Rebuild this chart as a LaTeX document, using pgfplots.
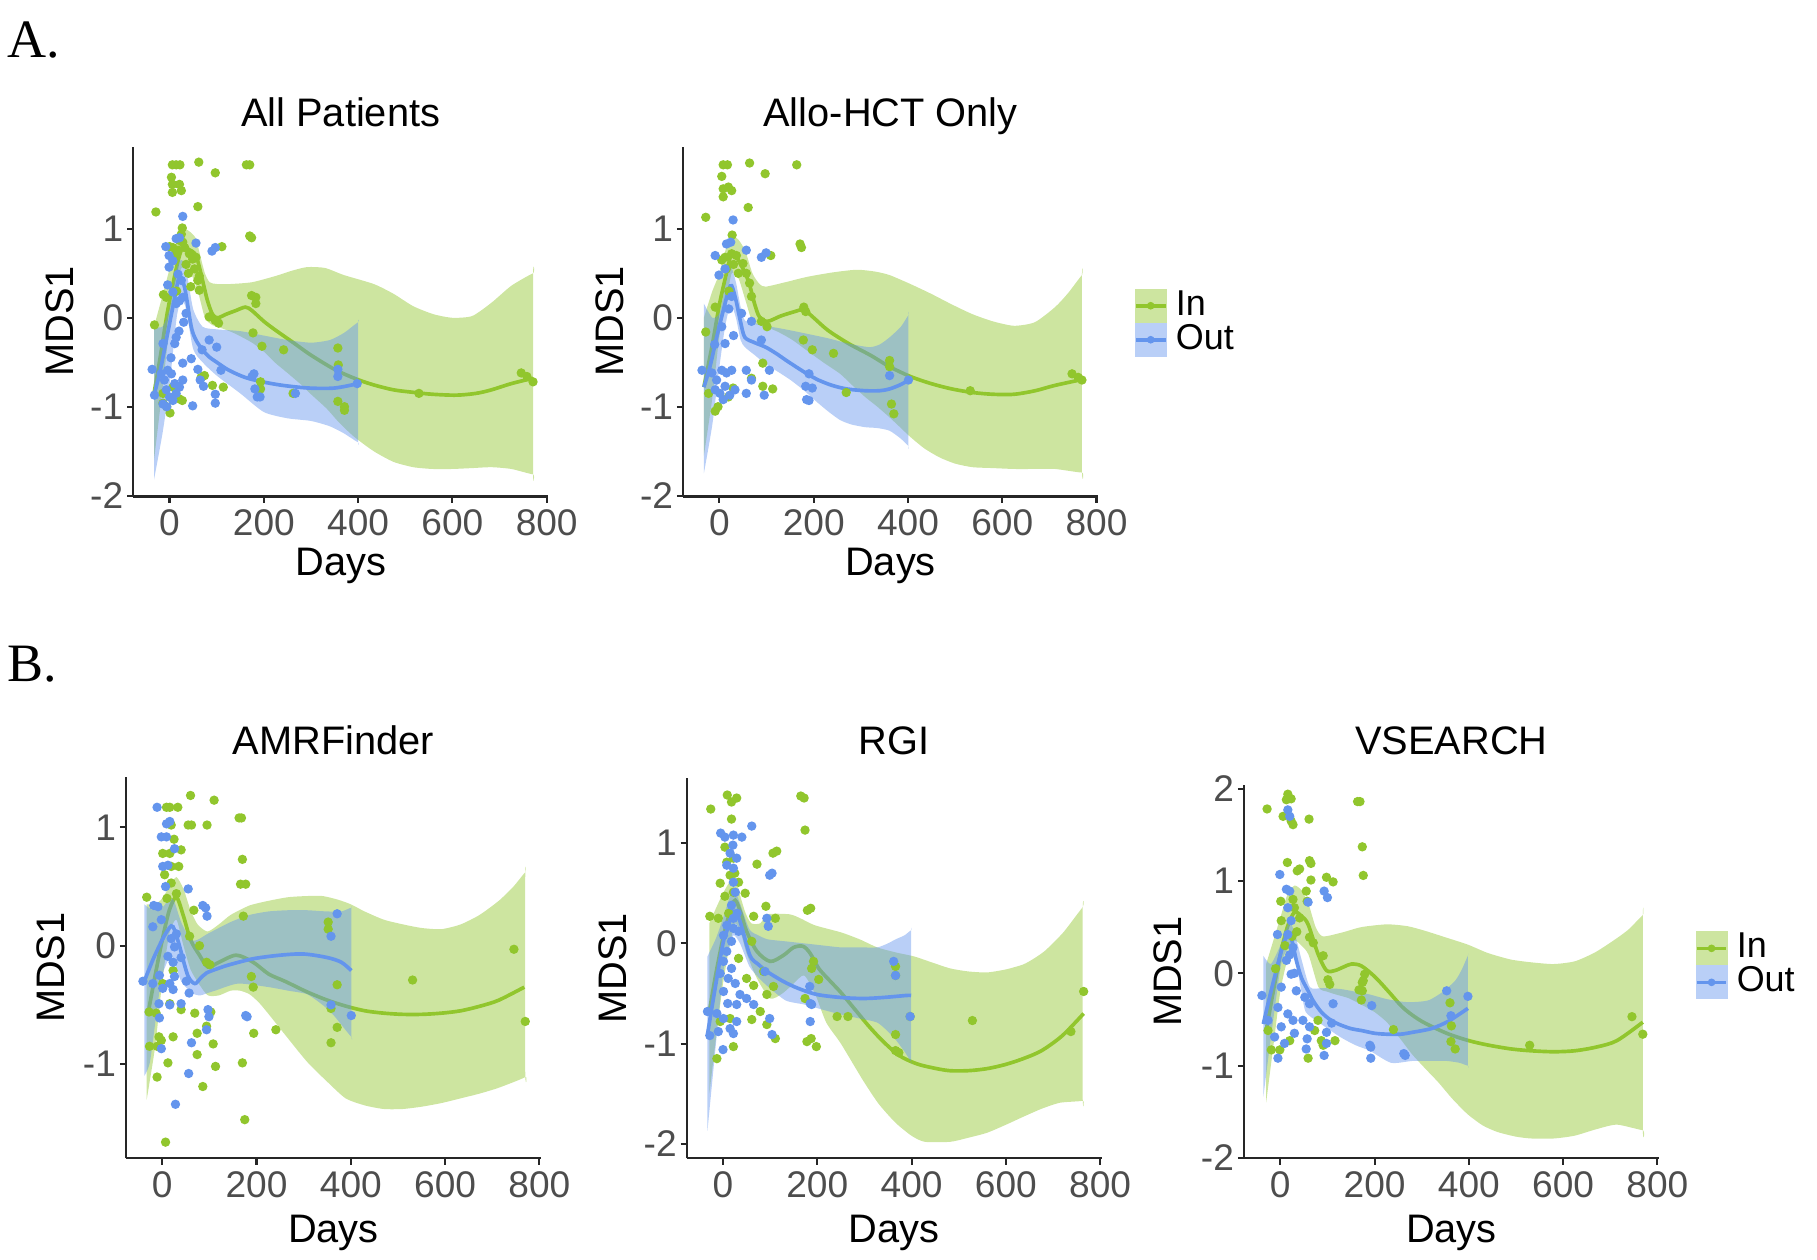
\documentclass[border=0pt]{standalone}
\usepackage{fontspec}
\setmainfont{Liberation Sans}
\newfontfamily\serifletter{Liberation Serif}
\usepackage{pgfplots}
\pgfplotsset{compat=1.18}

\definecolor{gin}{RGB}{145,198,45}
\definecolor{gout}{RGB}{100,149,237}
\definecolor{tickgrey}{RGB}{77,77,77}

\pgfplotsset{
  panel/.style={
    scale only axis, anchor=south west, width=107.4pt,
    xmin=-77, xmax=803,
    axis x line*=bottom, axis y line*=left,
    axis line style={-, line width=0.55pt, black!85},
    every tick/.style={line width=0.55pt, black!85},
    tick align=outside, major tick length=1.6pt,
    xtick={0,200,400,600,800}, xticklabels={0,200,400,600,800},
    tick label style={font=\fontsize{9.6}{11}\selectfont, text=tickgrey},
    yticklabel style={inner xsep=0.8pt},
    xticklabel style={inner ysep=1.6pt},
  },
  pts/.style={only marks, mark=*, mark size=1.0pt, color=#1, mark options={draw=#1, fill=#1}, forget plot},
  rib/.style={fill=#1, fill opacity=0.45, draw=none, smooth, tension=0.4, forget plot},
  fit/.style={draw=#1, line width=0.95pt, smooth, no marks},
  keyIn/.style={legend image code/.code={
      \fill[draw=none, gin, fill opacity=0.45] (0pt,-4.4pt) rectangle (8.3pt,4.4pt);
      \draw[gin, line width=0.95pt] (0.3pt,0pt) -- (8pt,0pt);
      \fill[draw=none, gin] (4.15pt,0pt) circle[radius=1pt];}},
  keyOut/.style={legend image code/.code={
      \fill[draw=none, gout, fill opacity=0.45] (0pt,-4.4pt) rectangle (8.3pt,4.4pt);
      \draw[gout, line width=0.95pt] (0.3pt,0pt) -- (8pt,0pt);
      \fill[draw=none, gout] (4.15pt,0pt) circle[radius=1pt];}},
  keybox/.style={legend cell align=left,
      legend style={draw=none, fill=none, inner sep=0pt, row sep=0pt,
      nodes={inner sep=0pt}, font=\fontsize{9.3}{10}\selectfont,
      /tikz/every odd column/.append style={column sep=2.2pt}}},
}

\begin{document}
\begin{tikzpicture}
\path[use as bounding box] (0,0) rectangle (470.4pt,-326.1pt);

% ---------------- A: All Patients ----------------
\begin{axis}[panel, at={(34.5pt,-128.55pt)}, height=90.6pt,
  ymin=-2.01, ymax=1.925, ytick={-2,-1,0,1}, yticklabels={-2,-1,0,1}]
\addplot[pts=gin] coordinates {(6,1.72)(14,1.72)(22,1.72)(62,1.75)(97,1.63)(163,1.72)(170,1.72)(4,1.58)(6,1.50)(21,1.50)(6,1.41)(25,1.43)(-29,1.19)(60,1.25)(170,0.92)(174,0.90)(27,1.01)(25,0.94)(111,0.80)(0,0.80)(7,0.79)(18,0.76)(32,0.79)(42,0.72)(49,0.66)(56,0.68)(11,0.70)(21,0.87)(28,0.85)(63,0.47)(60,0.42)(53,0.55)(-13,0.26)(-7,0.23)(-32,-0.08)(174,0.25)(183,0.23)(183,0.16)(177,-0.17)(242,-0.36)(97,-0.03)(104,-0.06)(67,-0.67)(74,-0.65)(91,-0.76)(114,-0.78)(20,-0.91)(27,-0.93)(-6,-1.00)(1,-1.07)(-14,-0.96)(193,-0.72)(193,-0.80)(63,0.31)(84,0.01)(196,-0.32)(262,-0.85)(357,-0.34)(358,-0.53)(357,-0.94)(371,-1.00)(371,-1.04)(529,-0.85)(746,-0.62)(758,-0.66)(771,-0.72)(7,-0.78)(-14,-0.85)(35,0.60)(40,0.50)(15,0.30)(45,0.35)};
\addplot[pts=gout] coordinates {(28,1.14)(56,0.84)(90,0.75)(97,0.79)(-8,0.80)(14,0.89)(21,0.90)(-1,0.70)(7,0.64)(-1,0.57)(-4,0.37)(18,0.49)(25,0.42)(21,0.19)(28,0.23)(14,0.16)(7,0.29)(20,-0.15)(11,-0.29)(14,-0.22)(-37,-0.58)(46,-0.46)(28,-0.51)(60,-0.58)(65,-0.70)(72,-0.77)(49,-0.99)(97,-0.86)(97,-0.96)(109,-0.59)(-32,-0.87)(-18,-0.63)(-11,-0.70)(-4,-0.59)(4,-0.63)(-7,-0.81)(0,-0.89)(-14,-0.97)(7,-0.93)(14,-0.85)(-6,-1.00)(11,-0.74)(21,-0.78)(28,-0.70)(179,-0.63)(186,-0.89)(181,-0.80)(84,-0.25)(100,-0.33)(69,-0.36)(192,-0.89)(267,-0.85)(357,-0.66)(357,-0.58)(175,-0.66)(398,-0.74)(-14,-0.29)(35,0.05)(30,-0.05)(3,-0.45)};
\addplot[rib=gin] coordinates {(-33,-0.1)(-15,0.25)(0,0.55)(15,0.85)(28,1.0)(40,0.98)(55,0.9)(65,0.7)(75,0.5)(85,0.4)(100,0.38)(130,0.38)(175,0.40)(225,0.47)(260,0.53)(292,0.57)(330,0.56)(370,0.48)(433,0.38)(475,0.27)(517,0.13)(560,0.04)(600,0.0)(642,0.02)(683,0.17)(725,0.36)(771,0.5)(771,0.45)
  (771,-1.71)(771,-1.76)(725,-1.70)(683,-1.68)(642,-1.69)(600,-1.70)(558,-1.70)(517,-1.68)(475,-1.62)(433,-1.5)(392,-1.34)(360,-1.18)(333,-1.02)(300,-0.86)(283,-0.77)(250,-0.62)(225,-0.51)(200,-0.38)(175,-0.28)(140,-0.18)(117,-0.13)(100,-0.1)(90,-0.08)(75,0.0)(60,0.3)(45,0.5)(28,0.58)(15,0.4)(0,-0.1)(-15,-0.8)(-33,-1.6)} -- cycle;
\addplot[fit=gin] coordinates {(-33,-0.85)(-20,-0.45)(-5,0.05)(10,0.45)(20,0.68)(28,0.79)(40,0.77)(56,0.70)(70,0.42)(80,0.2)(91,0.04)(102,0.0)(120,0.04)(140,0.08)(161,0.12)(175,0.08)(200,-0.04)(225,-0.14)(260,-0.27)(300,-0.42)(350,-0.58)(392,-0.68)(430,-0.75)(475,-0.81)(520,-0.84)(558,-0.86)(608,-0.87)(650,-0.85)(683,-0.81)(725,-0.74)(771,-0.68)};
\addplot[rib=gout] coordinates {(-33,-0.1)(-15,-0.1)(0,0.1)(15,0.55)(25,0.65)(35,0.55)(50,0.1)(70,-0.1)(100,-0.13)(150,-0.15)(200,-0.2)(250,-0.25)(300,-0.28)(340,-0.25)(370,-0.17)(400,-0.05)(400,-0.1)
  (400,-1.35)(400,-1.4)(370,-1.3)(340,-1.22)(300,-1.16)(250,-1.13)(200,-1.06)(150,-0.85)(100,-0.65)(70,-0.5)(50,-0.35)(35,0.1)(25,0.2)(15,0.0)(0,-0.75)(-15,-1.3)(-33,-1.82)} -- cycle;
\addplot[fit=gout] coordinates {(-33,-0.87)(-20,-0.6)(-5,-0.2)(10,0.2)(21,0.46)(32,0.34)(46,-0.1)(56,-0.25)(70,-0.36)(84,-0.44)(100,-0.5)(126,-0.59)(160,-0.67)(197,-0.72)(240,-0.76)(295,-0.79)(350,-0.79)(400,-0.74)};
\end{axis}

% ---------------- A: Allo-HCT Only ----------------
\begin{axis}[panel, keybox, at={(176.85pt,-128.55pt)}, height=90.6pt,
  ymin=-2.01, ymax=1.925, ytick={-2,-1,0,1}, yticklabels={-2,-1,0,1},
  legend style={at={(1.085,0.596)}, anchor=north west}]
\addplot[pts=gin] coordinates {(8,1.72)(17,1.72)(64,1.74)(97,1.62)(164,1.72)(5,1.59)(8,1.45)(26,1.43)(19,1.47)(8,1.36)(-29,1.13)(61,1.24)(171,0.83)(174,0.79)(27,0.93)(26,0.72)(12,0.68)(36,0.70)(5,0.65)(50,0.61)(57,0.50)(64,0.39)(109,0.70)(-9,0.12)(-29,-0.16)(179,0.12)(183,0.07)(68,0.24)(89,-0.04)(101,-0.10)(68,-0.68)(92,-0.77)(113,-0.80)(-3,-1.00)(-9,-1.05)(29,-0.79)(19,-0.89)(178,-0.25)(197,-0.36)(242,-0.40)(92,-0.51)(-23,-0.85)(361,-0.48)(361,-0.55)(365,-0.97)(370,-1.08)(532,-0.82)(748,-0.63)(761,-0.67)(769,-0.70)(269,-0.84)(15,0.55)(30,0.60)(40,0.50)(20,0.30)};
\addplot[pts=gout] coordinates {(29,1.10)(57,0.76)(89,0.68)(99,0.73)(-9,0.70)(15,0.83)(24,0.85)(-1,0.48)(12,0.55)(26,0.24)(5,-0.10)(12,-0.29)(-37,-0.59)(57,-0.59)(68,-0.70)(57,-0.85)(95,-0.87)(106,-0.59)(-16,-0.62)(-6,-0.70)(5,-0.59)(15,-0.62)(26,-0.59)(-9,-0.81)(1,-0.85)(12,-0.77)(22,-0.87)(33,-0.81)(8,-0.92)(183,-0.77)(185,-0.92)(197,-0.79)(89,-0.25)(68,-0.04)(47,0.05)(190,-0.93)(190,-0.63)(361,-0.65)(401,-0.70)(20,0.10)(30,-0.20)(-10,-0.30)};
\addplot[rib=gin] coordinates {(-33,0.0)(-15,0.3)(0,0.5)(15,0.8)(26,0.92)(40,0.88)(55,0.75)(70,0.5)(85,0.38)(98,0.35)(140,0.4)(186,0.46)(240,0.51)(291,0.54)(330,0.52)(361,0.48)(405,0.38)(449,0.27)(493,0.15)(537,0.04)(580,-0.04)(625,-0.09)(669,-0.05)(712,0.12)(740,0.28)(769,0.48)(769,0.43)
  (769,-1.69)(769,-1.74)(712,-1.70)(669,-1.7)(625,-1.7)(580,-1.69)(537,-1.68)(500,-1.64)(467,-1.57)(435,-1.47)(405,-1.34)(385,-1.24)(361,-1.12)(335,-1.0)(309,-0.89)(280,-0.75)(256,-0.63)(220,-0.5)(186,-0.37)(155,-0.25)(125,-0.16)(98,-0.1)(85,-0.08)(70,-0.05)(55,0.2)(40,0.45)(26,0.5)(15,0.2)(0,-0.2)(-15,-0.9)(-33,-1.55)} -- cycle;
\addplot[fit=gin, keyIn] coordinates {(-33,-0.78)(-15,-0.3)(0,0.15)(15,0.5)(26,0.72)(40,0.65)(61,0.42)(75,0.15)(85,0.01)(102,-0.04)(130,0.02)(160,0.07)(179,0.09)(200,0.0)(230,-0.14)(274,-0.29)(320,-0.42)(361,-0.55)(405,-0.66)(449,-0.74)(493,-0.8)(537,-0.84)(580,-0.86)(625,-0.86)(670,-0.82)(712,-0.76)(773,-0.69)};
\addlegendentry{In}
\addplot[rib=gout] coordinates {(-33,0.16)(-15,0.0)(0,0.05)(12,0.35)(24,0.57)(35,0.4)(45,0.12)(54,-0.03)(75,-0.06)(98,-0.09)(140,-0.13)(186,-0.18)(230,-0.23)(274,-0.29)(318,-0.33)(340,-0.3)(361,-0.22)(385,-0.1)(401,0.03)(401,-0.02)
  (401,-1.39)(401,-1.44)(385,-1.36)(361,-1.27)(335,-1.24)(309,-1.23)(280,-1.2)(256,-1.15)(230,-1.05)(203,-0.93)(180,-0.82)(151,-0.7)(125,-0.61)(98,-0.52)(75,-0.42)(54,-0.33)(45,-0.25)(35,0.0)(24,0.15)(12,-0.1)(0,-0.55)(-15,-1.2)(-33,-1.75)} -- cycle;
\addplot[fit=gout, keyOut] coordinates {(-33,-0.78)(-20,-0.55)(-5,-0.2)(10,0.12)(20,0.32)(26,0.36)(35,0.2)(45,-0.05)(54,-0.22)(75,-0.28)(98,-0.33)(120,-0.4)(142,-0.48)(165,-0.56)(186,-0.63)(210,-0.7)(239,-0.76)(270,-0.8)(309,-0.82)(340,-0.82)(361,-0.8)(385,-0.75)(401,-0.7)};
\addlegendentry{Out}
\end{axis}

% ---------------- B: AMRFinder ----------------
\begin{axis}[panel, at={(32.61pt,-299.88pt)}, height=98.79pt,
  ymin=-1.797, ymax=1.428, ytick={-1,0,1}, yticklabels={-1,0,1}]
\addplot[pts=gin] coordinates {(60,1.27)(110,1.23)(9,1.17)(16,1.17)(33,1.17)(163,1.08)(168,1.08)(19,1.02)(55,1.02)(62,1.02)(95,1.02)(1,0.78)(16,0.78)(40,0.81)(19,0.67)(35,0.67)(170,0.73)(166,0.52)(177,0.52)(5,0.60)(19,0.53)(30,0.44)(-33,0.41)(67,0.30)(172,0.25)(58,0.08)(94,-0.14)(101,-0.16)(79,0.0)(23,-0.21)(1,-0.32)(189,-0.26)(193,-0.35)(-28,-0.56)(-13,-0.57)(16,-0.49)(69,-0.57)(40,-0.54)(103,-0.56)(94,-0.68)(74,-0.74)(23,-0.77)(-7,-0.77)(-2,-0.80)(-27,-0.85)(-11,-0.85)(194,-0.74)(241,-0.71)(108,-0.83)(12,-0.99)(74,-0.92)(113,-1.02)(170,-0.99)(-11,-1.11)(86,-1.19)(175,-1.47)(7,-1.66)(358,-0.82)(371,-0.69)(531,-0.29)(746,-0.03)(770,-0.64)(358,-0.53)(371,-0.33)(352,0.20)(352,0.14)(25,0.90)(10,0.40)};
\addplot[pts=gout] coordinates {(-11,1.17)(9,1.03)(16,1.05)(-2,0.92)(9,0.92)(26,0.82)(1,0.67)(12,0.68)(55,0.48)(7,0.50)(86,0.34)(92,0.32)(95,0.25)(-18,0.34)(-9,0.33)(-20,0.16)(-2,0.22)(19,0.06)(26,-0.01)(12,-0.09)(23,-0.14)(-41,-0.30)(-6,-0.25)(26,-0.26)(1,-0.36)(23,-0.37)(51,-0.30)(57,-0.40)(-7,-0.49)(16,-0.50)(40,-0.49)(-6,-0.61)(97,-0.54)(99,-0.60)(180,-0.60)(62,-0.82)(-2,-0.87)(94,-0.71)(56,-1.08)(28,-1.34)(-20,-0.32)(16,-0.32)(358,0.08)(371,0.27)(401,-0.59)(358,-0.50)(177,-0.59)(30,0.10)(40,-0.10)};
\addplot[rib=gin] coordinates {(-33,0.35)(-15,0.35)(0,0.4)(15,0.5)(30,0.58)(45,0.48)(60,0.3)(75,0.18)(96,0.12)(120,0.18)(145,0.26)(185,0.34)(226,0.38)(267,0.41)(307,0.42)(340,0.42)(372,0.39)(400,0.35)(429,0.29)(470,0.22)(511,0.18)(550,0.15)(592,0.14)(633,0.18)(673,0.26)(714,0.38)(745,0.5)(770,0.62)(770,0.57)
  (770,-1.06)(770,-1.11)(714,-1.2)(673,-1.25)(633,-1.29)(592,-1.33)(551,-1.36)(510,-1.38)(470,-1.38)(430,-1.35)(389,-1.29)(350,-1.15)(307,-0.98)(260,-0.75)(226,-0.58)(205,-0.48)(185,-0.41)(165,-0.38)(145,-0.38)(120,-0.42)(97,-0.42)(79,-0.33)(60,-0.2)(45,0.0)(30,0.22)(15,0.1)(0,-0.3)(-15,-0.85)(-33,-1.3)} -- cycle;
\addplot[fit=gin] coordinates {(-30,-0.57)(-15,-0.25)(0,0.05)(15,0.3)(30,0.41)(45,0.25)(60,0.05)(79,-0.08)(97,-0.18)(120,-0.14)(157,-0.08)(193,-0.14)(226,-0.24)(260,-0.3)(307,-0.39)(350,-0.46)(389,-0.51)(430,-0.55)(470,-0.57)(510,-0.58)(551,-0.58)(592,-0.57)(633,-0.55)(675,-0.51)(714,-0.46)(768,-0.35)};
\addplot[rib=gout] coordinates {(-38,0.35)(-20,0.3)(0,0.32)(15,0.4)(25,0.38)(40,0.2)(60,0.05)(75,0.05)(96,0.1)(145,0.2)(185,0.26)(226,0.29)(267,0.3)(307,0.3)(348,0.29)(380,0.29)(401,0.32)(401,0.27)
  (401,-0.72)(401,-0.77)(364,-0.59)(340,-0.5)(307,-0.41)(267,-0.38)(226,-0.35)(161,-0.32)(112,-0.38)(96,-0.4)(80,-0.42)(63,-0.4)(40,-0.3)(23,-0.1)(15,-0.1)(0,-0.25)(-10,-0.5)(-26,-0.98)(-38,-1.1)} -- cycle;
\addplot[fit=gout] coordinates {(-38,-0.30)(-20,-0.12)(0,0.05)(15,0.15)(23,0.16)(35,0.02)(54,-0.25)(69,-0.32)(80,-0.28)(94,-0.23)(120,-0.19)(143,-0.16)(193,-0.11)(250,-0.08)(300,-0.07)(350,-0.1)(380,-0.14)(401,-0.21)};
\end{axis}

% ---------------- B: RGI ----------------
\begin{axis}[panel, at={(177.78pt,-299.88pt)}, height=98.37pt,
  ymin=-2.145, ymax=1.646, ytick={-2,-1,0,1}, yticklabels={-2,-1,0,1}]
\addplot[pts=gin] coordinates {(9,1.48)(18,1.41)(29,1.45)(-26,1.34)(18,1.24)(165,1.47)(172,1.45)(174,1.13)(106,0.90)(114,0.92)(72,0.79)(4,0.96)(8,0.81)(22,0.85)(15,0.68)(-6,0.60)(33,0.61)(47,0.50)(4,0.47)(22,0.51)(179,0.33)(186,0.35)(91,0.37)(-28,0.27)(-10,0.25)(111,0.25)(65,0.27)(61,0.02)(33,-0.15)(50,-0.35)(65,-0.42)(86,-0.28)(93,-0.51)(107,-0.43)(79,-0.68)(61,-0.76)(93,-0.81)(111,-0.95)(22,-1.03)(-13,-1.15)(178,-0.98)(187,-0.95)(198,-1.03)(-6,-0.78)(15,-0.75)(174,-0.55)(242,-0.73)(265,-0.73)(366,-0.23)(366,-0.32)(366,-0.91)(366,-1.07)(373,-1.09)(397,-0.73)(529,-0.77)(738,-0.88)(765,-0.48)(188,-0.25)(192,-0.18)(203,-0.36)(12,0.30)(25,0.70)};
\addplot[pts=gout] coordinates {(61,1.17)(-5,1.10)(4,1.06)(22,1.08)(40,1.06)(21,0.98)(99,0.68)(104,0.70)(8,0.78)(22,0.75)(29,0.85)(15,0.90)(22,0.61)(26,0.51)(18,0.38)(22,0.25)(22,0.15)(1,0.08)(18,0.02)(8,-0.08)(1,-0.18)(18,-0.25)(-6,-0.30)(11,-0.35)(26,-0.40)(1,-0.48)(36,-0.51)(50,-0.55)(65,-0.61)(-33,-0.68)(-13,-0.70)(1,-0.75)(15,-0.85)(29,-0.78)(-10,-0.88)(-28,-0.92)(0,-1.06)(22,-0.90)(93,0.25)(96,0.17)(99,-0.75)(104,-0.91)(89,-0.28)(185,-0.60)(185,-0.78)(29,-0.61)(8,0.18)(33,0.12)(184,-0.43)(362,-0.18)(366,-0.32)(188,-0.61)(397,-0.73)(10,-0.60)(30,0.30)};
\addplot[rib=gin] coordinates {(-29,0.2)(-15,0.35)(0,0.5)(15,0.62)(26,0.65)(38,0.45)(48,0.3)(60,0.2)(79,0.2)(95,0.29)(141,0.29)(164,0.25)(195,0.18)(250,0.11)(290,0.04)(327,-0.04)(366,-0.09)(405,-0.13)(443,-0.19)(482,-0.25)(520,-0.28)(560,-0.29)(600,-0.26)(637,-0.21)(660,-0.15)(684,-0.07)(722,0.11)(763,0.36)(763,0.31)
  (763,-1.52)(763,-1.57)(715,-1.59)(676,-1.65)(637,-1.73)(600,-1.81)(560,-1.89)(520,-1.94)(482,-1.98)(428,-1.98)(400,-1.92)(366,-1.79)(330,-1.6)(296,-1.36)(250,-1.0)(219,-0.79)(195,-0.5)(172,-0.32)(150,-0.4)(126,-0.5)(100,-0.55)(72,-0.35)(50,-0.1)(38,0.1)(26,0.2)(15,0.0)(0,-0.4)(-15,-0.95)(-29,-1.5)} -- cycle;
\addplot[fit=gin] coordinates {(-29,-0.68)(-15,-0.3)(0,0.05)(15,0.32)(26,0.43)(38,0.3)(50,0.12)(72,-0.08)(100,-0.18)(128,-0.12)(150,-0.04)(170,-0.03)(185,-0.1)(203,-0.25)(226,-0.37)(250,-0.49)(280,-0.66)(310,-0.83)(340,-0.98)(374,-1.12)(410,-1.2)(443,-1.24)(480,-1.27)(521,-1.27)(560,-1.25)(598,-1.21)(637,-1.15)(676,-1.07)(720,-0.92)(765,-0.70)};
\addplot[rib=gout] coordinates {(-33,-0.13)(-15,0.05)(0,0.25)(10,0.4)(22,0.55)(36,0.4)(56,0.14)(75,0.08)(95,0.04)(133,0.02)(172,0.0)(210,-0.02)(250,-0.04)(290,-0.04)(327,-0.04)(350,0.0)(366,0.04)(385,0.08)(399,0.13)(399,0.08)
  (399,-1.13)(399,-1.18)(385,-1.08)(366,-0.96)(350,-0.88)(327,-0.79)(290,-0.75)(250,-0.71)(210,-0.66)(172,-0.61)(133,-0.57)(95,-0.43)(75,-0.34)(56,-0.23)(36,0.0)(22,0.08)(10,-0.1)(0,-0.3)(-15,-1.0)(-33,-1.87)} -- cycle;
\addplot[fit=gout] coordinates {(-33,-0.91)(-15,-0.4)(0,0.0)(8,0.12)(22,0.32)(36,0.22)(57,-0.12)(75,-0.21)(93,-0.28)(128,-0.38)(160,-0.45)(199,-0.51)(250,-0.54)(298,-0.55)(340,-0.54)(389,-0.52)(399,-0.52)};
\end{axis}

% ---------------- B: VSEARCH ----------------
\begin{axis}[panel, keybox, at={(322.05pt,-299.88pt)}, height=96.66pt,
  ymin=-2.005, ymax=2.04, ytick={-2,-1,0,1,2}, yticklabels={-2,-1,0,1,2},
  legend style={at={(1.085,0.610)}, anchor=north west}]
\addplot[pts=gin] coordinates {(16,1.94)(13,1.88)(23,1.89)(-28,1.78)(6,1.70)(23,1.65)(27,1.61)(61,1.67)(164,1.86)(169,1.86)(174,1.37)(176,1.06)(15,1.20)(36,1.11)(41,1.13)(62,1.22)(65,1.19)(65,1.01)(98,1.04)(112,0.99)(1,0.78)(27,0.80)(55,0.89)(57,0.78)(30,0.71)(2,0.57)(41,0.60)(62,0.39)(70,0.33)(91,0.19)(101,-0.07)(105,-0.12)(179,-0.01)(174,-0.10)(174,-0.19)(-26,-0.62)(-19,-0.83)(-1,-0.83)(20,-0.73)(59,-0.92)(80,-0.51)(87,-0.73)(116,-0.73)(73,-0.62)(91,-0.78)(167,-0.18)(172,-0.29)(240,-0.61)(360,-0.32)(363,-0.57)(362,-0.74)(371,-0.82)(529,-0.78)(746,-0.47)(769,-0.66)(176,-0.08)(10,0.30)(25,0.40)(35,0.45)(-10,0.05)};
\addplot[pts=gout] coordinates {(16,1.77)(20,1.70)(-1,1.07)(13,0.91)(20,0.89)(93,0.89)(100,0.82)(59,0.77)(-6,0.42)(16,0.71)(23,0.57)(16,0.42)(27,0.28)(13,0.14)(23,-0.01)(-39,-0.24)(2,-0.15)(34,-0.19)(52,-0.26)(62,-0.33)(-5,-0.37)(16,-0.44)(27,-0.51)(2,-0.58)(-12,-0.69)(9,-0.76)(30,-0.65)(48,-0.51)(62,-0.58)(57,-0.71)(98,-0.64)(98,-0.76)(93,-0.89)(55,-0.82)(-5,-0.92)(-26,-0.51)(112,-0.33)(192,-0.80)(192,-0.92)(109,-0.54)(265,-0.89)(194,-0.35)(353,-0.19)(362,-0.46)(398,-0.25)(262,-0.87)(190,-0.78)(20,0.20)(30,0.0)};
\addplot[rib=gin] coordinates {(-30,0.1)(-15,0.35)(0,0.6)(15,0.85)(30,0.95)(45,0.9)(60,0.75)(75,0.5)(90,0.40)(130,0.44)(172,0.50)(226,0.53)(270,0.51)(307,0.46)(350,0.39)(398,0.31)(440,0.22)(488,0.15)(530,0.12)(579,0.10)(625,0.13)(669,0.23)(714,0.38)(740,0.48)(769,0.63)(769,0.58)
  (769,-1.65)(769,-1.70)(714,-1.64)(670,-1.69)(624,-1.76)(580,-1.79)(533,-1.79)(500,-1.77)(461,-1.72)(430,-1.65)(398,-1.53)(365,-1.36)(335,-1.18)(307,-1.03)(280,-0.88)(253,-0.7)(226,-0.53)(200,-0.42)(172,-0.34)(145,-0.27)(118,-0.23)(100,-0.2)(81,-0.15)(60,0.2)(45,0.3)(30,0.35)(15,0.15)(0,-0.2)(-15,-0.8)(-30,-1.4)} -- cycle;
\addplot[fit=gin, keyIn] coordinates {(-30,-0.62)(-15,-0.2)(0,0.2)(15,0.5)(30,0.66)(45,0.62)(59,0.53)(80,0.21)(98,0.03)(116,0.03)(135,0.07)(151,0.10)(172,0.08)(201,-0.04)(230,-0.2)(262,-0.38)(300,-0.52)(353,-0.65)(400,-0.73)(443,-0.78)(490,-0.82)(533,-0.84)(580,-0.85)(624,-0.84)(670,-0.8)(714,-0.73)(769,-0.53)};
\addlegendentry{In}
\addplot[rib=gout] coordinates {(-36,0.19)(-20,0.1)(0,0.3)(10,0.45)(20,0.55)(30,0.45)(45,0.15)(63,-0.15)(90,-0.16)(127,-0.17)(160,-0.2)(190,-0.23)(226,-0.28)(262,-0.31)(290,-0.31)(316,-0.29)(345,-0.2)(371,-0.08)(385,0.04)(398,0.19)(398,0.14)
  (398,-0.95)(398,-1.0)(380,-0.97)(353,-0.95)(320,-0.95)(280,-0.95)(235,-0.97)(190,-0.84)(160,-0.78)(127,-0.69)(81,-0.53)(54,-0.42)(45,-0.2)(30,0.2)(20,0.28)(10,0.22)(0,0.05)(-20,-0.7)(-36,-1.34)} -- cycle;
\addplot[fit=gout, keyOut] coordinates {(-36,-0.55)(-20,-0.2)(0,0.2)(9,0.35)(18,0.42)(25,0.35)(34,0.14)(45,-0.05)(59,-0.19)(70,-0.3)(87,-0.42)(105,-0.5)(123,-0.55)(150,-0.6)(172,-0.62)(200,-0.65)(226,-0.66)(255,-0.66)(280,-0.64)(320,-0.6)(353,-0.53)(375,-0.46)(398,-0.38)};
\addlegendentry{Out}
\end{axis}

% ---------------- titles, axis titles, panel letters ----------------
\begin{scope}[every node/.style={inner sep=0pt}]
\node[anchor=base west, font=\serifletter\fontsize{14}{14}\selectfont] at (1.8pt,-15pt) {A.};
\node[anchor=base west, font=\serifletter\fontsize{14}{14}\selectfont] at (1.8pt,-176.4pt) {B.};
\node[anchor=base, font=\fontsize{10.3}{12}\selectfont] at (88.2pt,-32.7pt) {All Patients};
\node[anchor=base, font=\fontsize{10.3}{12}\selectfont] at (230.55pt,-32.7pt) {Allo-HCT Only};
\node[anchor=base, font=\fontsize{10.3}{12}\selectfont] at (86.3pt,-195.3pt) {AMRFinder};
\node[anchor=base, font=\fontsize{10.3}{12}\selectfont] at (231.5pt,-195.3pt) {RGI};
\node[anchor=base, font=\fontsize{10.3}{12}\selectfont] at (375.75pt,-195.3pt) {VSEARCH};
\node[anchor=base, font=\fontsize{10.3}{12}\selectfont] at (88.2pt,-149.1pt) {Days};
\node[anchor=base, font=\fontsize{10.3}{12}\selectfont] at (230.55pt,-149.1pt) {Days};
\node[anchor=base, font=\fontsize{10.3}{12}\selectfont] at (86.3pt,-321.6pt) {Days};
\node[anchor=base, font=\fontsize{10.3}{12}\selectfont] at (231.5pt,-321.6pt) {Days};
\node[anchor=base, font=\fontsize{10.3}{12}\selectfont] at (375.75pt,-321.6pt) {Days};
\node[rotate=90, anchor=center, font=\fontsize{10.3}{12}\selectfont] at (15.6pt,-83.25pt) {MDS1};
\node[rotate=90, anchor=center, font=\fontsize{10.3}{12}\selectfont] at (157.95pt,-83.25pt) {MDS1};
\node[rotate=90, anchor=center, font=\fontsize{10.3}{12}\selectfont] at (13.2pt,-250.5pt) {MDS1};
\node[rotate=90, anchor=center, font=\fontsize{10.3}{12}\selectfont] at (158.7pt,-250.7pt) {MDS1};
\node[rotate=90, anchor=center, font=\fontsize{10.3}{12}\selectfont] at (302.4pt,-251.55pt) {MDS1};
\end{scope}
\end{tikzpicture}
\end{document}
